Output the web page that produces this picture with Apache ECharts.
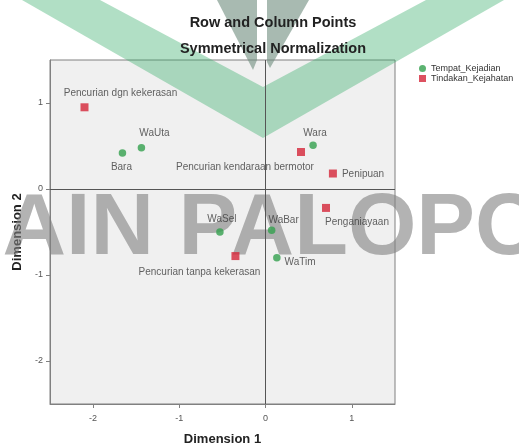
<!DOCTYPE html>
<html>
<head>
<meta charset="utf-8">
<script src="https://cdn.jsdelivr.net/npm/echarts@6/dist/echarts.min.js"></script>
<style>html,body{margin:0;padding:0;background:#fff}#c{width:519px;height:445px}</style>
</head>
<body>
<div id="c"></div>
<script>
// ---- data ----
const tempatNames = ['WaUta', 'Bara', 'Wara', 'WaSel', 'WaBar', 'WaTim'];
const tempatDim1 = [-1.44, -1.66, 0.55, -0.53, 0.07, 0.13];
const tempatDim2 = [0.48, 0.42, 0.51, -0.50, -0.48, -0.80];
const tindakanNames = ['Pencurian dgn kekerasan', 'Pencurian kendaraan bermotor', 'Penipuan', 'Penganiayaan', 'Pencurian tanpa kekerasan'];
const tindakanDim1 = [-2.10, 0.41, 0.78, 0.70, -0.35];
const tindakanDim2 = [0.95, 0.43, 0.18, -0.22, -0.78];
const axisTicks = [-2, -1, 0, 1];
const seriesNames = ['Tempat_Kejadian', 'Tindakan_Kejahatan'];

// ---- label placement (style only) ----
const labelPlace = {
  'Pencurian dgn kekerasan': {position: 'top', offset: [36, 0]},
  'WaUta': {position: 'top', offset: [13, -1]},
  'Bara': {position: 'bottom', offset: [-1, 1]},
  'Pencurian kendaraan bermotor': {position: 'bottom', offset: [-56, 1]},
  'Wara': {position: 'top', offset: [2, 2]},
  'Penipuan': {position: 'right', offset: [0, 1]},
  'Penganiayaan': {position: 'bottom', offset: [31, 0]},
  'WaSel': {position: 'top', offset: [2, 1]},
  'WaBar': {position: 'top', offset: [12, 4]},
  'WaTim': {position: 'right', offset: [-1, 4]},
  'Pencurian tanpa kekerasan': {position: 'bottom', offset: [-36, 2]}
};

const FONT = '"Liberation Sans", Arial, sans-serif';
function build(names, d1, d2) {
  return names.map((n, i) => ({name: n, value: [d1[i], d2[i]], label: labelPlace[n]}));
}
const baseLabel = {show: true, formatter: '{b}', fontSize: 10, color: '#3a3a3a', fontFamily: FONT};

const chart = echarts.init(document.getElementById('c'), null, {renderer: 'canvas'});
const option = {
  animation: false,
  backgroundColor: '#ffffff',
  textStyle: {fontFamily: FONT},
  title: [
    {text: 'Row and Column Points', left: 268, top: 10, textAlign: 'center', z: 6,
     textStyle: {fontSize: 14.5, fontWeight: 'bold', color: '#222', fontFamily: FONT}},
    {text: 'Symmetrical Normalization', left: 268, top: 36, textAlign: 'center', z: 6,
     textStyle: {fontSize: 14.5, fontWeight: 'bold', color: '#222', fontFamily: FONT}}
  ],
  legend: {
    orient: 'vertical', left: 414, top: 59, itemWidth: 7, itemHeight: 7, itemGap: 1,
    data: [{name: seriesNames[0], icon: 'circle'}, {name: seriesNames[1], icon: 'rect'}],
    textStyle: {fontSize: 9, color: '#333', fontFamily: FONT}
  },
  grid: {left: 50, top: 60, width: 345, height: 344, show: true,
         containLabel: false, outerBoundsMode: 'none',
         backgroundColor: '#f0f0f0', borderColor: '#808080', borderWidth: 1},
  xAxis: {
    type: 'value', min: -2.5, max: 1.5, interval: 0.5,
    name: 'Dimension 1', nameLocation: 'middle', nameGap: 29,
    nameTextStyle: {fontSize: 13, fontWeight: 'bold', color: '#222', fontFamily: FONT},
    axisLine: {show: true, onZero: false, lineStyle: {color: '#808080'}},
    axisTick: {show: true, customValues: axisTicks, length: 4, lineStyle: {color: '#808080'}},
    axisLabel: {customValues: axisTicks, fontSize: 9, color: '#555', margin: 10,
                formatter: v => (Number.isInteger(v) ? String(v) : '')},
    splitLine: {show: false}
  },
  yAxis: {
    type: 'value', min: -2.5, max: 1.5, interval: 0.5,
    name: 'Dimension 2', nameLocation: 'middle', nameGap: 21,
    nameTextStyle: {fontSize: 13, fontWeight: 'bold', color: '#222', fontFamily: FONT},
    axisLine: {show: true, onZero: false, lineStyle: {color: '#808080'}},
    axisTick: {show: true, customValues: axisTicks, length: 4, lineStyle: {color: '#808080'}},
    axisLabel: {customValues: axisTicks, fontSize: 9, color: '#555', margin: 7,
                formatter: v => (Number.isInteger(v) ? String(v) : '')},
    splitLine: {show: false}
  },
  graphic: {
    elements: [
      {type: 'polygon', z: 1, silent: true,
       shape: {points: [[22, 0], [263, 138], [504, 0], [426, 0], [263, 87], [100, 0]]},
       style: {fill: 'rgba(60,175,110,0.4)'}},
      {type: 'polygon', z: 1, silent: true,
       shape: {points: [[217, 0], [257, 0], [257, 60], [253, 70]]},
       style: {fill: 'rgba(110,140,125,0.6)'}},
      {type: 'polygon', z: 1, silent: true,
       shape: {points: [[267, 0], [309, 0], [270, 68], [267, 62]]},
       style: {fill: 'rgba(110,140,125,0.6)'}},
      {type: 'text', z: 1, silent: true, x: -22, y: 230,
       style: {text: 'IAIN PALOPO', font: 'bold 88px "Liberation Sans", Arial, sans-serif',
               fill: 'rgba(128,128,128,0.6)', textAlign: 'left', textVerticalAlign: 'middle'}}
    ]
  },
  series: [
    {
      name: seriesNames[0], type: 'scatter', symbol: 'circle', symbolSize: 7.5, z: 3,
      itemStyle: {color: '#33a04e'},
      label: baseLabel,
      data: build(tempatNames, tempatDim1, tempatDim2),
      markLine: {
        silent: true, symbol: ['none', 'none'], animation: false,
        label: {show: false},
        lineStyle: {color: '#555', width: 1, type: 'solid'},
        emphasis: {disabled: true},
        data: [{xAxis: 0}, {yAxis: 0}]
      }
    },
    {
      name: seriesNames[1], type: 'scatter', symbol: 'rect', symbolSize: 8, z: 3,
      itemStyle: {color: '#d42538'},
      label: baseLabel,
      data: build(tindakanNames, tindakanDim1, tindakanDim2)
    }
  ]
};
chart.setOption(option);
</script>
</body>
</html>
